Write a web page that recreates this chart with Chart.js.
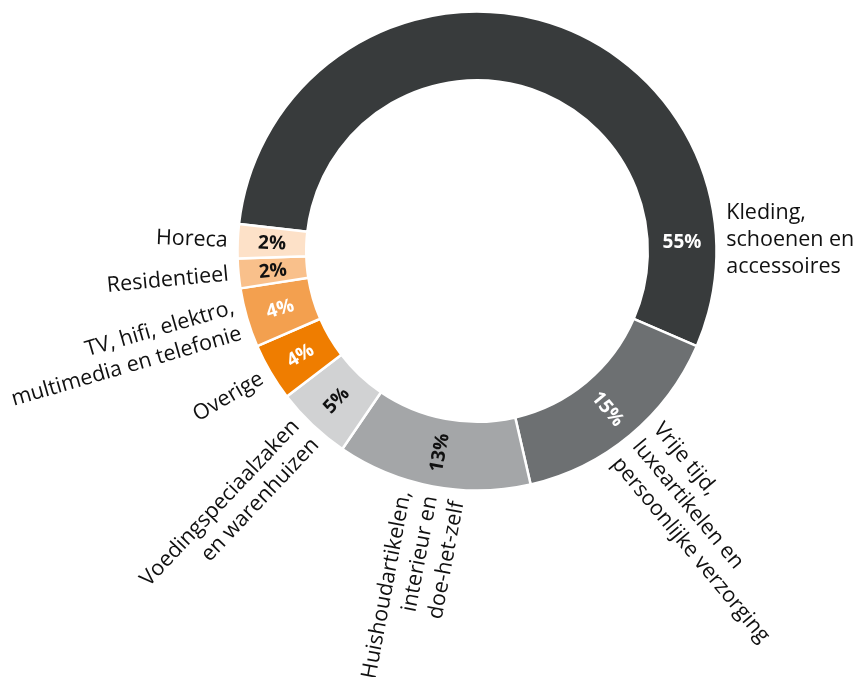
<!DOCTYPE html>
<html>
<head>
<meta charset="utf-8">
<script src="https://cdn.jsdelivr.net/npm/chart.js@4/dist/chart.umd.min.js"></script>
<style>
  html, body { margin: 0; padding: 0; background: #fff; }
  #wrap { width: 853px; height: 677px; }
</style>
</head>
<body>
<div id="wrap"><canvas id="chart" width="853" height="677"></canvas></div>
<script>
// Data (shares in %, clockwise from the big slice)
var categories = [
    'Kleding, schoenen en accessoires',
    'Vrije tijd, luxeartikelen en persoonlijke verzorging',
    'Huishoudartikelen, interieur en doe-het-zelf',
    'Voedingspeciaalzaken en warenhuizen',
    'Overige',
    'TV, hifi, elektro, multimedia en telefonie',
    'Residentieel',
    'Horeca'
];
var labelLines = [
    ['Kleding,', 'schoenen en', 'accessoires'],
    ['Vrije tijd,', 'luxeartikelen en', 'persoonlijke verzorging'],
    ['Huishoudartikelen,', 'interieur en', 'doe-het-zelf'],
    ['Voedingspeciaalzaken', 'en warenhuizen'],
    ['Overige'],
    ['TV, hifi, elektro,', 'multimedia en telefonie'],
    ['Residentieel'],
    ['Horeca']
];
var shares = [54.7, 14.9, 13.1, 5.1, 3.9, 4.0, 2.0, 2.3];
var percentLabels = ['55%', '15%', '13%', '5%', '4%', '4%', '2%', '2%'];

// Styling
var sliceColors = ['#383b3c', '#6d7072', '#a4a6a8', '#d1d2d3', '#ef7d00', '#f3a04f', '#f9c08b', '#fde1c8'];
var percentColors = ['#fff', '#fff', '#111', '#111', '#fff', '#fff', '#111', '#111'];
var FONT = '"Open Sans", "Noto Sans", sans-serif';

// Custom label plugin: category names outside, percentages inside the ring
var ringLabels = {
    id: 'ringLabels',
    afterDatasetsDraw: function (chart) {
        var ctx = chart.ctx;
        var arcs = chart.getDatasetMeta(0).data;
        arcs.forEach(function (arc, i) {
            var p = arc.getProps(['x', 'y', 'startAngle', 'endAngle', 'innerRadius', 'outerRadius'], true);
            var a = (p.startAngle + p.endAngle) / 2;
            var fixed = false;
            // the big slice gets its label at 3 o'clock
            if (i === 0) { a = -2.5 * Math.PI / 180; fixed = true; }
            var flipped = Math.cos(a) < 0;
            var rot = flipped ? a - Math.PI : a;
            if (rot < -Math.PI) rot += 2 * Math.PI;

            // percentage in the middle of the ring
            var rm = (p.innerRadius + p.outerRadius) / 2;
            ctx.save();
            ctx.translate(p.x + rm * Math.cos(a), p.y + rm * Math.sin(a));
            if (Math.abs(rot) > 40 * Math.PI / 180) ctx.rotate(rot);
            ctx.font = 'bold 19px ' + FONT;
            ctx.fillStyle = percentColors[i];
            ctx.textAlign = 'center';
            ctx.textBaseline = 'middle';
            ctx.fillText(percentLabels[i], 0, 1);
            ctx.restore();

            // category label outside
            var ro = p.outerRadius + 10;
            var lines = labelLines[i];
            var lh = 27;
            ctx.save();
            ctx.translate(p.x + ro * Math.cos(a), p.y + ro * Math.sin(a));
            if (!fixed) ctx.rotate(rot);
            ctx.font = '21.5px ' + FONT;
            ctx.fillStyle = '#111';
            ctx.textAlign = flipped ? 'right' : 'left';
            ctx.textBaseline = 'middle';
            lines.forEach(function (t, k) {
                ctx.fillText(t, 0, (k - (lines.length - 1) / 2) * lh);
            });
            ctx.restore();
        });
    }
};

new Chart(document.getElementById('chart'), {
    type: 'doughnut',
    data: {
        labels: categories,
        datasets: [{
            data: shares,
            backgroundColor: sliceColors,
            borderColor: '#fff',
            borderWidth: 2.5
        }]
    },
    options: {
        responsive: false,
        animation: false,
        rotation: 276.5,
        radius: 239.5,
        cutout: '71.3%',
        layout: { padding: { left: 101, right: 0, top: 0, bottom: 175 } },
        plugins: {
            legend: { display: false },
            tooltip: { enabled: false }
        }
    },
    plugins: [ringLabels]
});
</script>
</body>
</html>
